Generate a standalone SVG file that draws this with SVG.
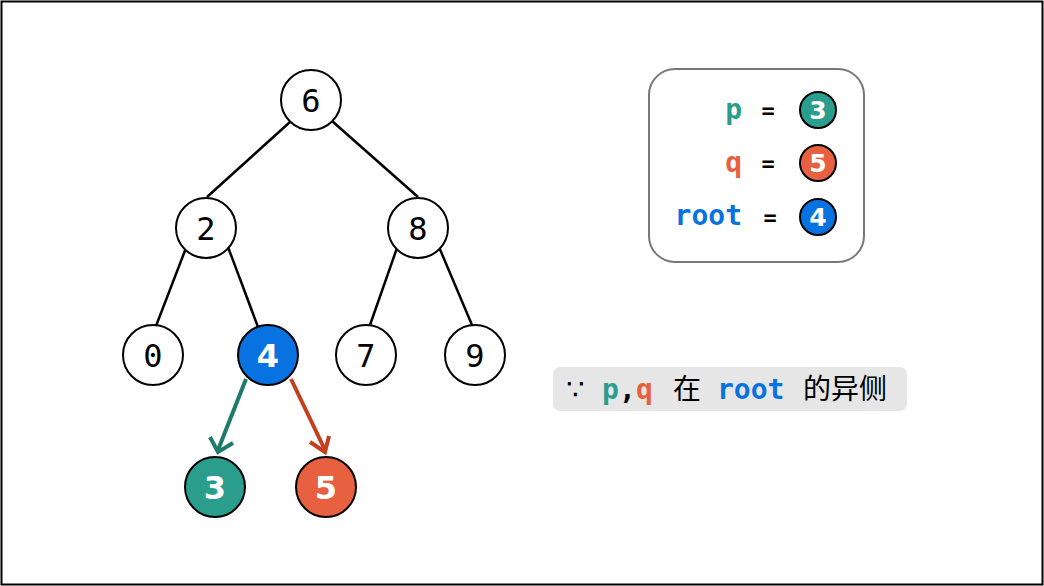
<svg xmlns="http://www.w3.org/2000/svg" width="1044" height="586" viewBox="0 0 1044 586">
<style>
.n{fill:#fff;stroke:#000;stroke-width:2}
.t{font-family:"DejaVu Sans Mono",monospace;font-size:32px;text-anchor:middle;fill:#000}
.w{font-family:"DejaVu Sans",sans-serif;font-weight:bold;font-size:32px;text-anchor:middle;fill:#fff}
.ws{font-family:"DejaVu Sans",sans-serif;font-weight:bold;font-size:25px;text-anchor:middle;fill:#fff}
.e{stroke:#000;stroke-width:2.5;fill:none}
.m{font-family:"DejaVu Sans Mono",monospace;font-weight:bold;font-size:28px}
.eq{font-family:"DejaVu Sans Mono",monospace;font-weight:bold;font-size:22px;text-anchor:middle;fill:#000}
.cj{font-family:"DejaVu Sans","Noto Sans CJK SC",sans-serif;font-size:28px}
</style>
<rect x="1.5" y="1.5" width="1041" height="583" fill="#fff" stroke="#000" stroke-width="2"/>
<g id="edges">
<line class="e" x1="290" y1="122" x2="207" y2="197"/>
<line class="e" x1="332" y1="121" x2="418" y2="197"/>
<line class="e" x1="186" y1="248" x2="156" y2="326"/>
<line class="e" x1="228" y1="247" x2="258" y2="327"/>
<line class="e" x1="397" y1="248" x2="370" y2="325"/>
<line class="e" x1="439" y1="247" x2="472" y2="325"/>
<line x1="246" y1="379" x2="218" y2="450" stroke="#1f7a6c" stroke-width="4"/>
<polyline points="210,437 218,452 233,443" fill="none" stroke="#1f7a6c" stroke-width="4"/>
<line x1="291" y1="379" x2="325" y2="450" stroke="#c43f1e" stroke-width="4"/>
<polyline points="310,442 325,452 329,436" fill="none" stroke="#c43f1e" stroke-width="4"/>
</g>
<g id="n6"><circle class="n" cx="311" cy="100" r="30"/><text class="t" x="311" y="112">6</text></g>
<g id="n2"><circle class="n" cx="206" cy="228" r="30"/><text class="t" x="206" y="240">2</text></g>
<g id="n8"><circle class="n" cx="418" cy="228" r="30"/><text class="t" x="418" y="240">8</text></g>
<g id="n0"><circle class="n" cx="153" cy="355" r="30"/><text class="t" x="153" y="367">0</text></g>
<g id="n4"><circle cx="268" cy="355" r="30" fill="#0872e0" stroke="#000" stroke-width="2"/><text class="w" x="268" y="367">4</text></g>
<g id="n7"><circle class="n" cx="366" cy="355" r="30"/><text class="t" x="366" y="367">7</text></g>
<g id="n9"><circle class="n" cx="475" cy="355" r="30"/><text class="t" x="475" y="367">9</text></g>
<g id="n3"><circle cx="215" cy="487" r="30" fill="#2a9d8c" stroke="#000" stroke-width="2"/><text class="w" x="215" y="499">3</text></g>
<g id="n5"><circle cx="326" cy="487" r="30" fill="#e76040" stroke="#000" stroke-width="2"/><text class="w" x="326" y="499">5</text></g>
<g id="legend">
<rect x="649" y="69" width="215" height="193" rx="26" fill="#fff" stroke="#777" stroke-width="2"/>
<text class="m" x="742" y="119" text-anchor="end" fill="#2a9d8c">p</text>
<text class="eq" x="768" y="118">=</text>
<circle cx="818" cy="110" r="18" fill="#2a9d8c" stroke="#000" stroke-width="2"/><text class="ws" x="818" y="119">3</text>
<text class="m" x="742" y="172" text-anchor="end" fill="#e76040">q</text>
<text class="eq" x="768" y="171">=</text>
<circle cx="818" cy="163" r="18" fill="#e76040" stroke="#000" stroke-width="2"/><text class="ws" x="818" y="172">5</text>
<text class="m" x="742" y="225" text-anchor="end" fill="#0872e0">root</text>
<text class="eq" x="770" y="225">=</text>
<circle cx="818" cy="217" r="18" fill="#0872e0" stroke="#000" stroke-width="2"/><text class="ws" x="818" y="226">4</text>
</g>
<g id="note">
<rect x="553" y="367" width="354" height="44" rx="7" fill="#e6e6e6"/>
<text class="cj" x="566" y="399" fill="#000">∵</text>
<text class="m" x="602" y="399" fill="#2a9d8c">p</text>
<text class="m" x="619" y="399" fill="#000">,</text>
<text class="m" x="636" y="399" fill="#e76040">q</text>
<text class="cj" x="673" y="399" fill="#000">在</text>
<text class="m" x="717" y="399" fill="#0872e0">root</text>
<text class="cj" x="803" y="399" fill="#000">的异侧</text>
</g>
</svg>
